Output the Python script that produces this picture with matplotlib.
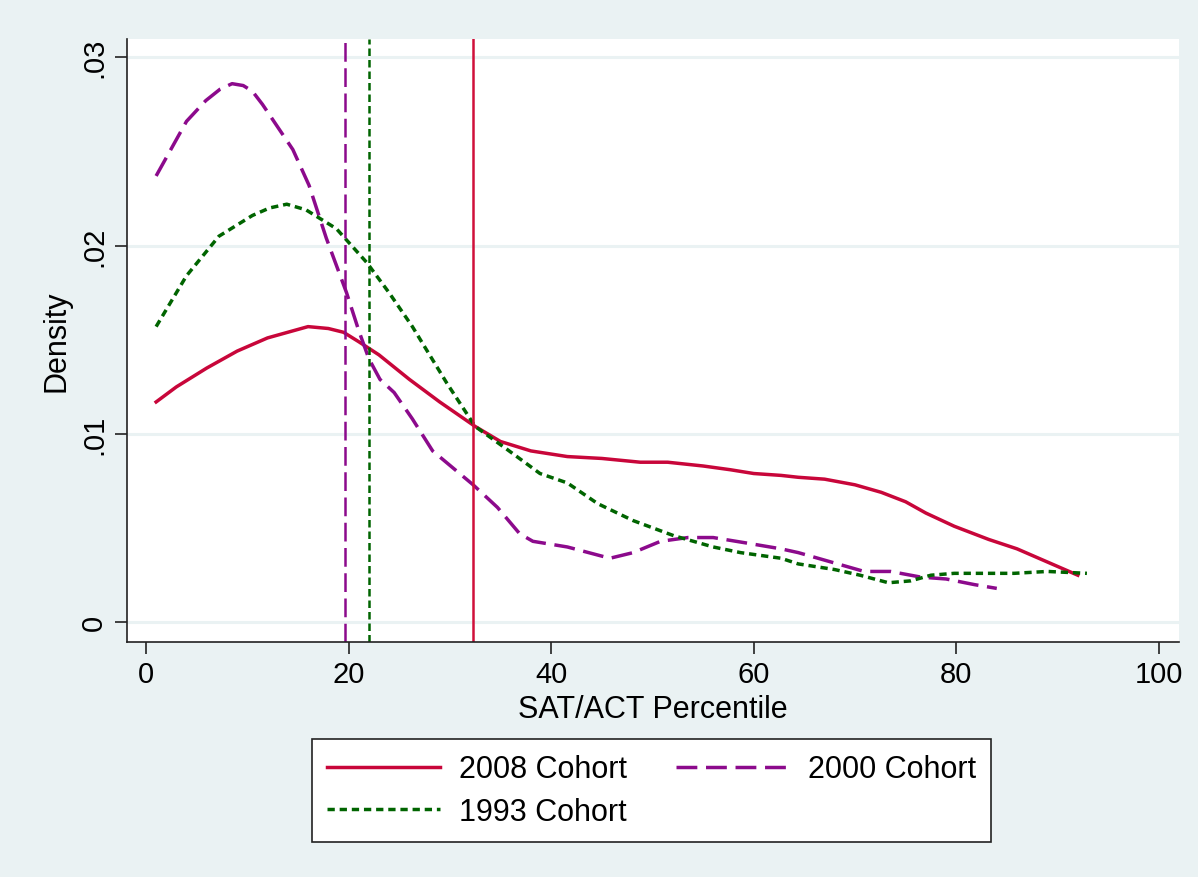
import numpy as np
import matplotlib.pyplot as plt

# density curves (x = percentile, y = density)
x_2008 = [1, 3, 6, 9, 12, 14, 16, 18, 19.5, 21, 23, 26, 29, 32.5, 35, 38, 41.6, 45, 48.8, 51.5, 55, 57.7, 60, 62.7, 64.4, 67, 70, 72.6, 75, 77, 79.8, 83.2, 86, 89, 92]
y_2008 = [0.0117, 0.0125, 0.0135, 0.0144, 0.0151, 0.0154, 0.0157, 0.0156, 0.0154, 0.0149, 0.0142, 0.0129, 0.0117, 0.0104, 0.0096, 0.0091, 0.0088, 0.0087, 0.0085, 0.0085, 0.0083, 0.0081, 0.0079, 0.0078, 0.0077, 0.0076, 0.0073, 0.0069, 0.0064, 0.0058, 0.0051, 0.0044, 0.0039, 0.0032, 0.0025]

x_2000 = [1, 4, 5.9, 7.3, 8.5, 9.6, 10.5, 11.5, 12.5, 14.5, 16.1, 17.8, 19.8, 21, 22, 23.1, 24.5, 26.3, 28.3, 32.3, 34.7, 36.9, 38.2, 41.6, 45.8, 48.1, 50.8, 53.5, 56, 59.4, 62.7, 64.4, 67, 70.9, 73.5, 76.5, 79, 81.8, 84]
y_2000 = [0.0237, 0.0266, 0.0277, 0.0283, 0.0286, 0.0285, 0.0282, 0.0275, 0.0267, 0.0251, 0.0232, 0.0204, 0.0175, 0.0155, 0.0140, 0.0129, 0.0122, 0.0108, 0.0091, 0.0073, 0.0061, 0.0047, 0.0043, 0.0040, 0.0034, 0.0037, 0.0043, 0.0045, 0.0045, 0.0042, 0.0039, 0.0037, 0.0033, 0.0027, 0.0027, 0.0024, 0.0023, 0.0020, 0.0018]

x_1993 = [1, 4, 7.2, 10.5, 12.2, 13.9, 15.8, 18.8, 21.8, 24, 26.3, 29.7, 32.5, 35.6, 38.9, 41.6, 44.6, 48.1, 52.1, 56, 58.7, 62.7, 64.4, 68, 70.5, 73.3, 75.5, 77.5, 79.8, 82, 85.7, 89, 92.9]
y_1993 = [0.0157, 0.0184, 0.0205, 0.0216, 0.0220, 0.0222, 0.0219, 0.0209, 0.0191, 0.0175, 0.0157, 0.0127, 0.0104, 0.0092, 0.0079, 0.0074, 0.0063, 0.0054, 0.0046, 0.0040, 0.0037, 0.0034, 0.0031, 0.0028, 0.0025, 0.0021, 0.0022, 0.0025, 0.0026, 0.0026, 0.0026, 0.0027, 0.0026]

# cohort medians (vertical lines)
med_2008 = 32.3
med_2000 = 19.65
med_1993 = 22.0

labels = ["2008 Cohort", "2000 Cohort", "1993 Cohort"]
red = "#C8063A"
purple = "#8C0A8C"
green = "#006400"
bg = "#EAF2F3"

plt.rcParams['font.family'] = ['Liberation Sans', 'DejaVu Sans']

fig = plt.figure(figsize=(11.98, 8.78), dpi=100, facecolor=bg)
ax = fig.add_axes([0.1058, 0.268, 0.878, 0.6864])
ax.set_facecolor("white")

for y in [0, 0.01, 0.02, 0.03]:
    ax.axhline(y, color=bg, lw=2.2, zorder=0)

l1, = ax.plot(x_2008, y_2008, color=red, lw=2.5, label=labels[0])
l2, = ax.plot(x_2000, y_2000, color=purple, lw=2.5, dashes=(6, 2.5), label=labels[1])
l3, = ax.plot(x_1993, y_1993, color=green, lw=2.5, dashes=(2.1, 1.4), label=labels[2])

ax.axvline(med_2008, color="#D0103A", lw=1.8)
ax.axvline(med_2000, color=purple, lw=1.8, dashes=(7.5, 2.6))
ax.axvline(med_1993, color=green, lw=1.8, dashes=(3, 1.6))

ax.set_xlim(-1.9, 101.95)
ax.set_ylim(-0.00103, 0.03097)
ax.set_xticks([0, 20, 40, 60, 80, 100])
ax.set_yticks([0, 0.01, 0.02, 0.03])
ax.set_yticklabels(["0", ".01", ".02", ".03"], rotation=90, va="center")
ax.tick_params(labelsize=21, length=8.5, width=1.2, color="#222222")
ax.tick_params(axis="y", pad=5)
ax.tick_params(axis="x", pad=5)
for s in ["top", "right"]:
    ax.spines[s].set_visible(False)
for s in ["left", "bottom"]:
    ax.spines[s].set_color("#222222")
    ax.spines[s].set_linewidth(1.2)

ax.set_xlabel("SAT/ACT Percentile", fontsize=22, labelpad=4)
ax.set_ylabel("Density", fontsize=22, labelpad=6)

# column-major fill: 2008 / 1993 in the first column, 2000 in the second
leg = fig.legend(handles=[l1, l3, l2], loc="center", ncol=2,
                 bbox_to_anchor=(0.5438, 0.0985),
                 fontsize=22, handlelength=3.7, handletextpad=0.62,
                 columnspacing=1.6, borderpad=0.5, labelspacing=0.4,
                 fancybox=False, framealpha=1, edgecolor="#222222")
leg.get_frame().set_linewidth(1.2)

fig.savefig("out.png", dpi=100, facecolor=bg)
